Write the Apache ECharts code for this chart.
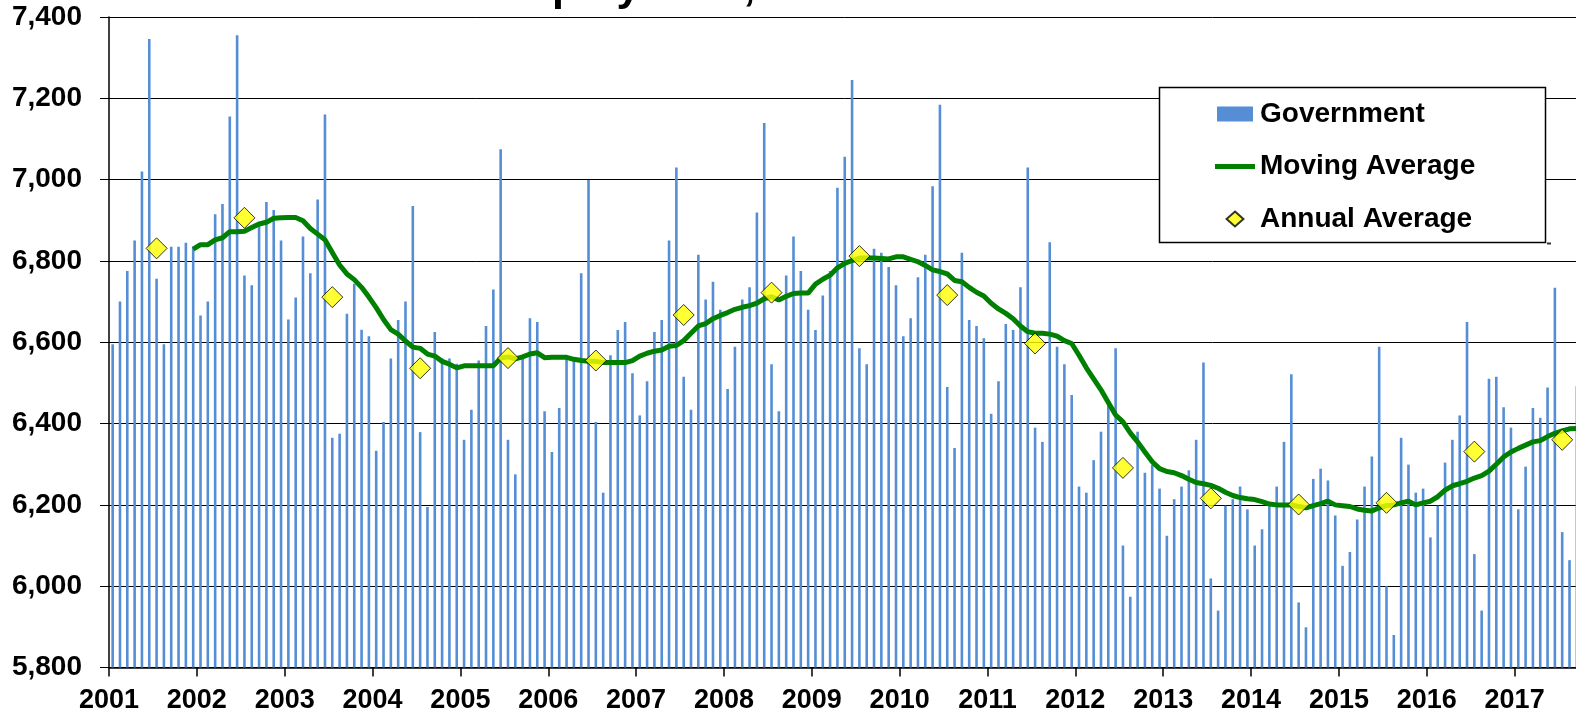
<!DOCTYPE html>
<html>
<head>
<meta charset="utf-8">
<script src="https://cdn.jsdelivr.net/npm/echarts@6/dist/echarts.min.js"></script>
<style>
html,body{margin:0;padding:0;background:#fff;overflow:hidden;}
#chart{width:1592px;height:715px;}
</style>
</head>
<body>
<div id="chart"></div>
<script>
// ---------- data ----------
const yearLabels = ['2001','2002','2003','2004','2005','2006','2007','2008','2009','2010','2011','2012','2013','2014','2015','2016','2017'];

// monthly government employment, Jan 2001 .. Sep 2017
const government = [
  6595, 6700, 6775, 6850, 7020, 7346, 6756, 6595, 6835, 6835, 6845, 6835,
  6666, 6700, 6915, 6940, 7155, 7355, 6764, 6740, 6890, 6945, 6925, 6850,
  6656, 6710, 6860, 6770, 6951, 7160, 6365, 6375, 6670, 6744, 6631, 6615,
  6333, 6404, 6560, 6655, 6700, 6935, 6379, 6195, 6625, 6560, 6560, 6547,
  6360, 6434, 6555, 6640, 6730, 7075, 6360, 6275, 6560, 6659, 6650, 6430,
  6330, 6438, 6568, 6558, 6770, 6999, 6404, 6230, 6568, 6630, 6650, 6524,
  6420, 6504, 6625, 6655, 6850, 7030, 6515, 6434, 6815, 6705, 6749, 6680,
  6485, 6589, 6705, 6735, 6919, 7139, 6546, 6430, 6764, 6860, 6775, 6680,
  6630, 6715, 6775, 6980, 7056, 7245, 6585, 6546, 6830, 6820, 6785, 6740,
  6615, 6659, 6760, 6815, 6984, 7184, 6490, 6340, 6820, 6655, 6640, 6610,
  6424, 6504, 6645, 6630, 6735, 7030, 6390, 6355, 6846, 6589, 6546, 6470,
  6245, 6230, 6310, 6380, 6450, 6585, 6100, 5974, 6380, 6279, 6299, 6240,
  6124, 6214, 6245, 6285, 6360, 6550, 6019, 5940, 6198, 6214, 6245, 6189,
  6100, 6140, 6198, 6245, 6355, 6521, 5960, 5899, 6264, 6289, 6260, 6174,
  6050, 6084, 6164, 6245, 6319, 6589, 6000, 5880, 6365, 6299, 6230, 6240,
  6120, 6198, 6304, 6360, 6420, 6650, 6079, 5940, 6510, 6515, 6440, 6390,
  6189, 6294, 6438, 6414, 6489, 6734, 6133, 6064, 6492
];

// 12-month moving average, Dec 2001 .. Sep 2017
const movingAverageFirstMonth = 11;
const movingAverage = [
  6829,
  6840, 6840, 6852, 6857, 6872, 6872, 6873, 6882, 6891, 6895, 6905, 6906,
  6907, 6907, 6899, 6880, 6866, 6852, 6821, 6790, 6768, 6754, 6735, 6711,
  6685, 6656, 6631, 6620, 6603, 6588, 6585, 6571, 6566, 6553, 6546, 6537,
  6542, 6542, 6542, 6542, 6542, 6561, 6564, 6559, 6564, 6571, 6574, 6562,
  6563, 6563, 6563, 6558, 6555, 6553, 6553, 6550, 6550, 6550, 6550, 6555,
  6566, 6573, 6578, 6581, 6590, 6592, 6604, 6622, 6640, 6646, 6658, 6666,
  6673, 6681, 6686, 6690, 6696, 6707, 6712, 6704, 6713, 6720, 6721, 6721,
  6743, 6755, 6765, 6783, 6794, 6801, 6807, 6807, 6807, 6806, 6805, 6810,
  6810, 6804, 6798, 6789, 6778, 6774, 6768, 6752, 6749, 6735, 6723, 6714,
  6696, 6682, 6671, 6658, 6640, 6626, 6622, 6622, 6620, 6615, 6604, 6597,
  6568, 6537, 6510, 6483, 6452, 6421, 6404, 6377, 6355, 6330, 6306, 6289,
  6282, 6279, 6272, 6263, 6255, 6252, 6248, 6241, 6231, 6223, 6218, 6215,
  6213, 6208, 6202, 6200, 6200, 6200, 6196, 6193, 6198, 6203, 6209, 6200,
  6198, 6196, 6190, 6187, 6185, 6193, 6198, 6200, 6205, 6209, 6200, 6205,
  6209, 6220, 6236, 6247, 6252, 6258, 6266, 6272, 6283, 6300, 6318, 6330,
  6339, 6347, 6355, 6358, 6368, 6376, 6382, 6387, 6388
];

// annual averages, plotted at July of each year
const annualAverageMonth = 6;
const annualAverage = [6831, 6906, 6711, 6536, 6561, 6555, 6667, 6722, 6812, 6716, 6597, 6291, 6216, 6201, 6205, 6331, 6360];

const yMin = 5800, yMax = 7400, yStep = 200;
const seriesNames = ['Government', 'Moving Average', 'Annual Average'];
const titleFragment = 'ployment,';

// ---------- chart ----------
const FONT = "'Liberation Sans', Arial, Helvetica, sans-serif";
const chart = echarts.init(document.getElementById('chart'), null, {renderer: 'canvas'});

const barData = government.map((v, i) => [i + 0.5, v]);
const maData = movingAverage.map((v, j) => [movingAverageFirstMonth + j + 0.5, v]);
const annData = annualAverage.map((v, k) => [k * 12 + annualAverageMonth + 0.5, v]);

chart.setOption({
  animation: false,
  backgroundColor: '#ffffff',
  grid: {left: 109, top: 17, width: 1471.5, height: 650.5, containLabel: false},
  xAxis: {
    type: 'value',
    min: 0,
    max: government.length,
    interval: 12,
    axisLine: {show: true, onZero: false, lineStyle: {color: '#000', width: 1.5}},
    axisTick: {show: true, inside: false, length: 9, lineStyle: {color: '#000', width: 1.5}},
    splitLine: {show: false},
    axisLabel: {
      show: true,
      margin: 20,
      showMaxLabel: false,
      color: '#000',
      fontFamily: FONT,
      fontWeight: 'bold',
      fontSize: 27,
      formatter: function (v) {
        if (v % 12 !== 0) return '';
        const idx = v / 12;
        return yearLabels[idx] !== undefined ? yearLabels[idx] : '';
      }
    }
  },
  yAxis: {
    type: 'value',
    min: yMin,
    max: yMax,
    interval: yStep,
    startValue: yMin,
    axisLine: {show: true, lineStyle: {color: '#000', width: 1.5}},
    axisTick: {show: true, inside: false, length: 9, lineStyle: {color: '#000', width: 1}},
    splitLine: {show: true, lineStyle: {color: '#000', width: 1}},
    axisLabel: {
      margin: 27,
      color: '#000',
      fontFamily: FONT,
      fontWeight: 'bold',
      fontSize: 28,
      formatter: v => v.toLocaleString('en-US')
    }
  },
  legend: {
    orient: 'vertical',
    left: 1215,
    top: 100,
    padding: 0,
    itemGap: 24.5,
    itemWidth: 40,
    itemHeight: 15,
    symbolKeepAspect: true,
    z: 10,
    selectedMode: false,
    textStyle: {color: '#000', fontFamily: FONT, fontWeight: 'bold', fontSize: 28},
    data: [
      {name: seriesNames[0], icon: 'path://M0,0H36V15H0Z'},
      {name: seriesNames[1], icon: 'path://M0,0H40V5H0Z'},
      {name: seriesNames[2], icon: 'path://M9,0L18,8L9,16L0,8Z'}
    ]
  },
  graphic: [
    {
      type: 'rect',
      z: 8,
      shape: {x: 1159.5, y: 87.5, width: 386, height: 155},
      style: {fill: '#ffffff', stroke: '#000', lineWidth: 1.5}
    },
    {
      type: 'rect',
      z: 8,
      shape: {x: 1547, y: 242.5, width: 4, height: 2},
      style: {fill: '#333333'}
    },
    {
      type: 'text',
      z: 8,
      x: 552,
      y: -12,
      style: {
        text: titleFragment,
        fill: '#000',
        fontFamily: FONT,
        fontWeight: 'bold',
        fontSize: 43,
        align: 'left',
        verticalAlign: 'middle'
      }
    }
  ],
  series: [
    {
      name: seriesNames[0],
      type: 'bar',
      data: barData,
      barWidth: 2.6,
      itemStyle: {color: '#558ED5'},
      z: 2
    },
    {
      name: seriesNames[1],
      type: 'line',
      data: maData,
      symbol: 'none',
      showSymbol: false,
      lineStyle: {color: '#008000', width: 5},
      itemStyle: {color: '#008000'},
      z: 3
    },
    {
      name: seriesNames[2],
      type: 'scatter',
      data: annData,
      symbol: 'diamond',
      symbolSize: 21,
      itemStyle: {color: '#FFFF00', borderColor: '#000', borderWidth: 1},
      z: 4
    }
  ]
});
</script>
</body>
</html>
